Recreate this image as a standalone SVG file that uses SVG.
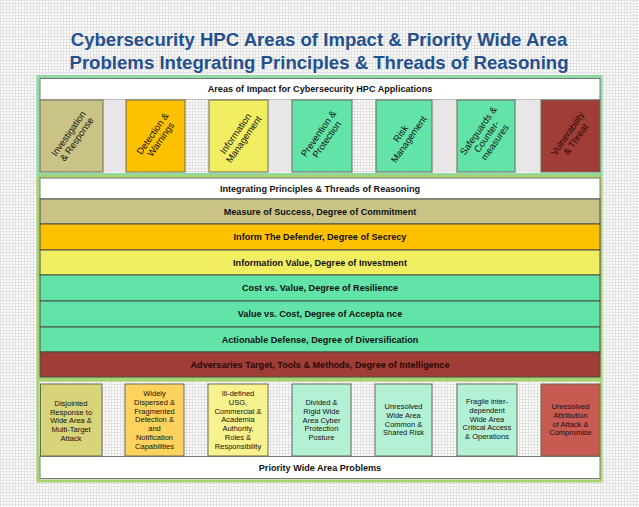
<svg xmlns="http://www.w3.org/2000/svg" width="639" height="507" viewBox="0 0 639 507">
<defs>
<pattern id="grid" width="3" height="3" patternUnits="userSpaceOnUse">
<rect width="3" height="3" fill="#fbfbfb"/>
<path d="M0 0.5H3M0.5 0V3" stroke="#e2e2e2" stroke-width="1"/>
</pattern>
</defs>
<style>
text{font-family:"Liberation Sans",Arial,sans-serif;fill:#111}
.title{font-size:18.6px;font-weight:bold;fill:#24508e;text-anchor:middle}
.hdr{font-size:9.1px;font-weight:bold;text-anchor:middle}
.band{font-size:9.1px;font-weight:bold;text-anchor:middle}
.rot{font-size:9.4px;text-anchor:middle}
.box{font-size:7.5px;text-anchor:middle}
.panelA{fill:none;stroke:#8fd9a4;stroke-width:3}
.panelB{fill:none;stroke:#a6d46e;stroke-width:3}
.white{fill:#fff;stroke:#7a7a7a;stroke-width:1}
.gap{fill:url(#grid);stroke:none}
.gapg{fill:#e7e7e7;stroke:none}
.col{stroke:#6b6b55;stroke-width:1}
.bnd{stroke:#4d4d4d;stroke-width:1}
.c1{fill:#c9c486}.c2{fill:#fdc100}.c3{fill:#f1ee62}.c4{fill:#62e4a9}.c5{fill:#9f3d36}
.b1{fill:#d8d47a}.b2{fill:#fdd35e}.b3{fill:#f8f28e}.b4{fill:#b3f1d7}.b5{fill:#c75a51}
.dark{fill:#2a0808}
</style>
<rect width="639" height="507" fill="url(#grid)"/>
<g id="title">
<text class="title" x="319" y="46">Cybersecurity HPC Areas of Impact &amp; Priority Wide Area</text>
<text class="title" x="319" y="69">Problems Integrating Principles &amp; Threads of Reasoning</text>
</g>
<g id="areas-panel">
<rect x="38" y="76.5" width="563" height="98" class="panelA"/>
<rect x="40" y="78.5" width="560" height="21.5" class="white"/>
<text class="hdr" x="320" y="92.3">Areas of Impact for Cybersecurity HPC Applications</text>
<rect x="103" y="100" width="23" height="72" class="gapg"/>
<rect x="185" y="100" width="24" height="72" class="gap"/>
<rect x="268" y="100" width="24" height="72" class="gapg"/>
<rect x="352" y="100" width="24" height="72" class="gap"/>
<rect x="432" y="100" width="25" height="72" class="gapg"/>
<rect x="515" y="100" width="26" height="72" class="gapg"/>
</g>
<g id="col-investigation">
<rect x="40" y="100" width="63" height="72" class="c1 col"/>
<g transform="translate(72,136) rotate(-55)"><text class="rot" x="0" y="-1">Investigation</text><text class="rot" x="0" y="9">&amp; Response</text></g>
</g>
<g id="col-detection">
<rect x="126" y="100" width="59" height="72" class="c2 col"/>
<g transform="translate(156,136) rotate(-55)"><text class="rot" x="0" y="-1">Detection &amp;</text><text class="rot" x="0" y="9">Warnings</text></g>
</g>
<g id="col-information">
<rect x="209" y="100" width="59" height="72" class="c3 col"/>
<g transform="translate(239,136) rotate(-55)"><text class="rot" x="0" y="-1">Information</text><text class="rot" x="0" y="9">Management</text></g>
</g>
<g id="col-prevention">
<rect x="292" y="100" width="60" height="72" class="c4 col"/>
<g transform="translate(322,136) rotate(-55)"><text class="rot" x="0" y="-1">Prevention &amp;</text><text class="rot" x="0" y="9">Protection</text></g>
</g>
<g id="col-risk">
<rect x="376" y="100" width="56" height="72" class="c4 col"/>
<g transform="translate(404,136) rotate(-55)"><text class="rot" x="0" y="-1">Risk</text><text class="rot" x="0" y="9">Management</text></g>
</g>
<g id="col-safeguards">
<rect x="457" y="100" width="58" height="72" class="c4 col"/>
<g transform="translate(486,136) rotate(-55)"><text class="rot" x="0" y="-6">Safeguards &amp;</text><text class="rot" x="0" y="4">Counter-</text><text class="rot" x="0" y="14">measures</text></g>
</g>
<g id="col-vulnerability">
<rect x="541" y="100" width="59" height="72" class="c5 col"/>
<g transform="translate(571,136) rotate(-55)"><text class="rot dark" x="0" y="-1">Vulnerability</text><text class="rot dark" x="0" y="9">&amp; Threat</text></g>
</g>
<g id="principles-panel">
<rect x="38" y="176.5" width="563" height="202" class="panelB"/>
<rect x="40" y="178" width="560" height="21" class="white"/>
<text class="hdr" x="320" y="191.8">Integrating Principles &amp; Threads of Reasoning</text>
</g>
<g id="band-measure"><rect x="40" y="199" width="560" height="25" class="c1 bnd"/><text class="band" x="320" y="214.8">Measure of Success, Degree of Commitment</text></g>
<g id="band-inform"><rect x="40" y="224" width="560" height="26" class="c2 bnd"/><text class="band" x="320" y="240.3">Inform The Defender, Degree of Secrecy</text></g>
<g id="band-infovalue"><rect x="40" y="250" width="560" height="25" class="c3 bnd"/><text class="band" x="320" y="265.8">Information Value, Degree of Investment</text></g>
<g id="band-cost"><rect x="40" y="275" width="560" height="26" class="c4 bnd"/><text class="band" x="320" y="291.3">Cost vs. Value, Degree of Resilience</text></g>
<g id="band-value"><rect x="40" y="301" width="560" height="26" class="c4 bnd"/><text class="band" x="320" y="317.3">Value vs. Cost, Degree of Accepta nce</text></g>
<g id="band-actionable"><rect x="40" y="327" width="560" height="25" class="c4 bnd"/><text class="band" x="320" y="342.8">Actionable Defense, Degree of Diversification</text></g>
<g id="band-adversaries"><rect x="40" y="352" width="560" height="25" class="c5 bnd"/><text class="band dark" x="320" y="367.8">Adversaries Target, Tools &amp; Methods, Degree of Intelligence</text></g>
<g id="problems-panel">
<rect x="38" y="380" width="563" height="101" class="panelB"/>
<rect x="102" y="384" width="23" height="72" class="gap"/>
<rect x="184" y="384" width="24" height="72" class="gap"/>
<rect x="268" y="384" width="24" height="72" class="gap"/>
<rect x="351" y="384" width="24" height="72" class="gap"/>
<rect x="432" y="384" width="25" height="72" class="gap"/>
<rect x="517" y="384" width="24" height="72" class="gap"/>
<rect x="40" y="456.5" width="560" height="22" class="white"/>
<text class="hdr" x="320" y="471">Priority Wide Area Problems</text>
</g>
<g id="box-disjointed">
<rect x="40.5" y="384" width="61.5" height="72" class="b1 col"/>
<text class="box" x="71" y="406">Disjointed</text><text class="box" x="71" y="414.7">Response to</text><text class="box" x="71" y="423.4">Wide Area &amp;</text><text class="box" x="71" y="432.1">Multi-Target</text><text class="box" x="71" y="440.8">Attack</text>
</g>
<g id="box-dispersed">
<rect x="125" y="384" width="59" height="72" class="b2 col"/>
<text class="box" x="154.5" y="396">Widely</text><text class="box" x="154.5" y="404.8">Dispersed &amp;</text><text class="box" x="154.5" y="413.6">Fragmented</text><text class="box" x="154.5" y="422.4">Detection &amp;</text><text class="box" x="154.5" y="431.2">and</text><text class="box" x="154.5" y="440">Notification</text><text class="box" x="154.5" y="448.8">Capabilities</text>
</g>
<g id="box-illdefined">
<rect x="208" y="384" width="60" height="72" class="b3 col"/>
<text class="box" x="238" y="396">Ill-defined</text><text class="box" x="238" y="404.8">USG,</text><text class="box" x="238" y="413.6">Commercial &amp;</text><text class="box" x="238" y="422.4">Academia</text><text class="box" x="238" y="431.2">Authority,</text><text class="box" x="238" y="440">Roles &amp;</text><text class="box" x="238" y="448.8">Responsibility</text>
</g>
<g id="box-divided">
<rect x="292" y="384" width="59" height="72" class="b4 col"/>
<text class="box" x="321.5" y="405">Divided &amp;</text><text class="box" x="321.5" y="413.8">Rigid Wide</text><text class="box" x="321.5" y="422.6">Area Cyber</text><text class="box" x="321.5" y="431.4">Protection</text><text class="box" x="321.5" y="440.2">Posture</text>
</g>
<g id="box-unresolved-risk">
<rect x="375" y="384" width="57" height="72" class="b4 col"/>
<text class="box" x="403.5" y="409">Unresolved</text><text class="box" x="403.5" y="417.8">Wide Area</text><text class="box" x="403.5" y="426.6">Common &amp;</text><text class="box" x="403.5" y="435.4">Shared Risk</text>
</g>
<g id="box-fragile">
<rect x="457" y="384" width="60" height="72" class="b4 col"/>
<text class="box" x="487" y="404">Fragile inter-</text><text class="box" x="487" y="412.8">dependent</text><text class="box" x="487" y="421.6">Wide Area</text><text class="box" x="487" y="430.4">Critical Access</text><text class="box" x="487" y="439.2">&amp; Operations</text>
</g>
<g id="box-attribution">
<rect x="541" y="384" width="59" height="72" class="b5 col"/>
<text class="box dark" x="570.5" y="409">Unresolved</text><text class="box dark" x="570.5" y="417.8">Attribution</text><text class="box dark" x="570.5" y="426.6">of Attack &amp;</text><text class="box dark" x="570.5" y="435.4">Compromise</text>
</g>
<g id="connectors"/>
</svg>
